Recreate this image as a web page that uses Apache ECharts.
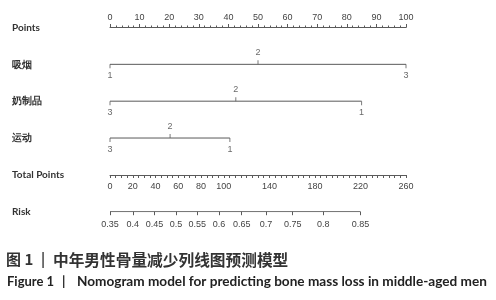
<!DOCTYPE html>
<html>
<head>
<meta charset="utf-8">
<script src="https://cdn.jsdelivr.net/npm/echarts@6/dist/echarts.min.js"></script>
<style>html,body{margin:0;padding:0;background:#fff}#c{width:496px;height:300px}</style>
</head>
<body>
<div id="c"></div>
<script>
// ---- data ----
const rowNames = ['Points', '吸烟', '奶制品', '运动', 'Total Points', 'Risk'];
const smokeLevels = ['1', '2', '3'];
const smokePoints = [0, 50, 100];
const dairyLevels = ['3', '2', '1'];
const dairyPoints = [0, 42.5, 85];
const exerciseLevels = ['3', '2', '1'];
const exercisePoints = [0, 20.3, 40.5];
const totalLabels = [0, 20, 40, 60, 80, 100, 140, 180, 220, 260];
const riskLabels = ['0.35', '0.4', '0.45', '0.5', '0.55', '0.6', '0.65', '0.7', '0.75', '0.8', '0.85'];
const riskTotals = [0, 20, 39.1, 57.9, 76.6, 95.8, 115.7, 137, 160.5, 187.4, 220];

// ---- styles ----
const LEFT = 110, WIDTH = 296;
const lineColor = '#5a5a5a';
const tickFont = { fontFamily: 'Liberation Sans', fontSize: 9, color: '#444' };

function variableSeries(name, levels, pts) {
  const last = pts.length - 1;
  return [
    {
      type: 'line', xAxisIndex: 0, yAxisIndex: 0, silent: true, symbol: 'none',
      lineStyle: { color: lineColor, width: 1 },
      data: [[pts[0], name], [pts[last], name]]
    },
    {
      type: 'scatter', xAxisIndex: 0, yAxisIndex: 0, silent: true,
      symbol: 'rect', symbolSize: [1, 4],
      itemStyle: { color: lineColor },
      data: levels.map((lv, i) => {
        const below = (i === 0 || i === last);
        return {
          value: [pts[i], name],
          symbolOffset: [0, below ? 2 : -2],
          label: {
            show: true, formatter: lv, position: below ? 'bottom' : 'top', distance: 3,
            fontFamily: tickFont.fontFamily, fontSize: tickFont.fontSize, color: tickFont.color
          }
        };
      })
    }
  ];
}

const chart = echarts.init(document.getElementById('c'), null, { renderer: 'canvas' });

const option = {
  animation: false,
  backgroundColor: '#fff',
  grid: [
    { left: LEFT, width: WIDTH, top: 27.5, height: 184.2 },
    { left: LEFT, width: WIDTH, top: 165, height: 10 },
    { left: LEFT, width: WIDTH, top: 201.7, height: 10 }
  ],
  xAxis: [
    { // Points axis
      gridIndex: 0, type: 'value', position: 'top', min: 0, max: 100, interval: 10,
      axisLine: { show: true, lineStyle: { color: lineColor, width: 1 } },
      axisTick: { show: true, length: 3.5, lineStyle: { color: lineColor } },
      minorTick: { show: true, splitNumber: 5, length: 2, lineStyle: { color: lineColor } },
      axisLabel: Object.assign({ margin: 5 }, tickFont),
      splitLine: { show: false }, minorSplitLine: { show: false }
    },
    { // hidden total-points scale for risk line
      gridIndex: 0, type: 'value', min: 0, max: 260, show: false
    },
    { // Total Points axis
      gridIndex: 1, type: 'value', position: 'bottom', min: 0, max: 260, interval: 5,
      axisLine: { show: true, lineStyle: { color: lineColor, width: 1 } },
      axisTick: { show: true, length: 3, lineStyle: { color: lineColor } },
      axisLabel: Object.assign({ margin: 7, customValues: totalLabels }, tickFont),
      splitLine: { show: false }
    },
    { // Risk axis
      gridIndex: 2, type: 'value', position: 'bottom', min: 0, max: 260,
      axisLine: { show: false },
      axisTick: { show: true, length: 3.5, customValues: riskTotals, lineStyle: { color: lineColor } },
      axisLabel: Object.assign({
        margin: 8, customValues: riskTotals,
        formatter: v => { const i = riskTotals.indexOf(v); return i >= 0 ? riskLabels[i] : ''; }
      }, tickFont),
      splitLine: { show: false }
    }
  ],
  yAxis: [
    {
      gridIndex: 0, type: 'category', data: rowNames, inverse: true, boundaryGap: false,
      axisLine: { show: false }, axisTick: { show: false }, splitLine: { show: false },
      axisLabel: {
        align: 'left', margin: 98, padding: [5, 0, 0, 0],
        fontFamily: 'Lato', fontSize: 10, fontWeight: 'bold', color: '#333'
      }
    },
    { gridIndex: 1, type: 'value', show: false },
    { gridIndex: 2, type: 'value', show: false }
  ],
  series: [
    ...variableSeries('吸烟', smokeLevels, smokePoints),
    ...variableSeries('奶制品', dairyLevels, dairyPoints),
    ...variableSeries('运动', exerciseLevels, exercisePoints),
    {
      type: 'line', xAxisIndex: 1, yAxisIndex: 0, silent: true, symbol: 'none',
      lineStyle: { color: lineColor, width: 1 },
      data: [[riskTotals[0], 'Risk'], [riskTotals[riskTotals.length - 1], 'Risk']]
    }
  ],
  graphic: [
    { type: 'text', left: 6, top: 252, style: { text: '图 1', font: 'bold 15px "Noto Sans CJK SC"', fill: '#333' } },
    { type: 'text', left: 41, top: 252, style: { text: '|', font: 'bold 14px "Noto Sans CJK SC"', fill: '#333' } },
    { type: 'text', left: 53, top: 252, style: { text: '中年男性骨量减少列线图预测模型', font: 'bold 15.7px "Noto Sans CJK SC"', fill: '#333' } },
    { type: 'text', left: 7, top: 275, style: { text: 'Figure 1', font: 'bold 13px Lato', fill: '#222' } },
    { type: 'text', left: 62, top: 275, style: { text: '|', font: 'bold 13px Lato', fill: '#222' } },
    { type: 'text', left: 77, top: 275, style: { text: 'Nomogram model for predicting bone mass loss in middle-aged men', font: 'bold 13.6px Lato', fill: '#222' } }
  ]
};
chart.setOption(option);
</script>
</body>
</html>
